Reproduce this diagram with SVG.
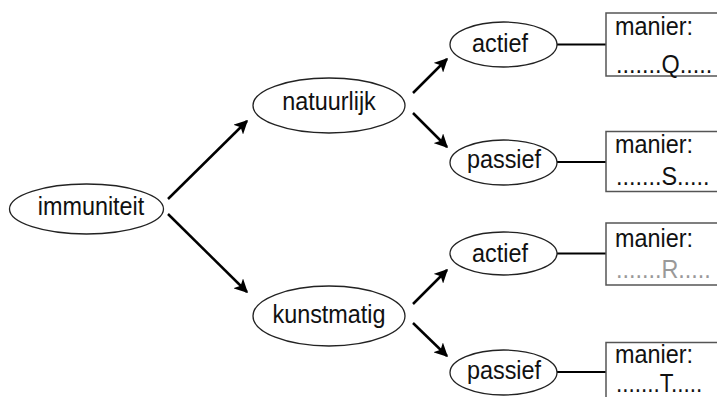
<svg xmlns="http://www.w3.org/2000/svg" width="717" height="397" viewBox="0 0 717 397">
  <defs>
    <marker id="arr" viewBox="0 0 10 10" refX="9" refY="5" markerWidth="5.5" markerHeight="5.5" markerUnits="strokeWidth" orient="auto">
      <path d="M0,0 L10,5 L0,10 L2.5,5 Z" fill="#000"/>
    </marker>
    <style>
      .node ellipse { fill: #fff; stroke: #222; stroke-width: 1.3; }
      .box rect { fill: #fff; stroke: #555; stroke-width: 1.5; }
      text { font-family: "Liberation Sans", Arial, sans-serif; font-size: 26px; fill: #111; }
      .c { text-anchor: middle; }
      .arrow { stroke: #000; stroke-width: 2.5; fill: none; marker-end: url(#arr); }
      .link { stroke: #000; stroke-width: 2; fill: none; }
      .grey { fill: #999; }
    </style>
  </defs>

  <g id="connectors">
    <line class="arrow" x1="168" y1="199" x2="247" y2="121"/>
    <line class="arrow" x1="168" y1="214" x2="247" y2="292"/>
    <line class="arrow" x1="413" y1="93" x2="447" y2="59"/>
    <line class="arrow" x1="413" y1="113" x2="447" y2="147"/>
    <line class="arrow" x1="413" y1="304" x2="447" y2="270"/>
    <line class="arrow" x1="413" y1="323" x2="447" y2="356"/>
    <line class="link" x1="557" y1="44.5" x2="606" y2="44.5"/>
    <line class="link" x1="557" y1="162" x2="606" y2="162"/>
    <line class="link" x1="557" y1="253.5" x2="606" y2="253.5"/>
    <line class="link" x1="557" y1="372" x2="606" y2="372"/>
  </g>

  <g id="immuniteit" class="node">
    <ellipse cx="86.5" cy="209" rx="77" ry="25"/>
    <text class="c" transform="translate(91,215) scale(0.9,1)">immuniteit</text>
  </g>
  <g id="natuurlijk" class="node">
    <ellipse cx="329" cy="105.5" rx="76" ry="27.5"/>
    <text class="c" transform="translate(329,110) scale(0.9,1)">natuurlijk</text>
  </g>
  <g id="kunstmatig" class="node">
    <ellipse cx="329" cy="316" rx="76" ry="30"/>
    <text class="c" transform="translate(329,322.5) scale(0.9,1)">kunstmatig</text>
  </g>
  <g id="actief1" class="node">
    <ellipse cx="503.5" cy="44.5" rx="53.5" ry="22.5"/>
    <text class="c" transform="translate(500,52) scale(0.9,1)">actief</text>
  </g>
  <g id="passief1" class="node">
    <ellipse cx="503.5" cy="162.5" rx="53.5" ry="22.5"/>
    <text class="c" transform="translate(504,168) scale(0.9,1)">passief</text>
  </g>
  <g id="actief2" class="node">
    <ellipse cx="503.5" cy="253.5" rx="53.5" ry="21.5"/>
    <text class="c" transform="translate(500,261.5) scale(0.9,1)">actief</text>
  </g>
  <g id="passief2" class="node">
    <ellipse cx="503.5" cy="372.5" rx="53.5" ry="22.5"/>
    <text class="c" transform="translate(504,379) scale(0.9,1)">passief</text>
  </g>

  <g id="boxQ" class="box">
    <rect x="606" y="13" width="130" height="63"/>
    <text transform="translate(615,35) scale(0.9,1)">manier:</text>
    <text transform="translate(616,72.5) scale(0.9,1)">.......Q.....</text>
  </g>
  <g id="boxS" class="box">
    <rect x="606" y="131.5" width="130" height="60"/>
    <text transform="translate(615,153) scale(0.9,1)">manier:</text>
    <text transform="translate(616,185) scale(0.9,1)">.......S.....</text>
  </g>
  <g id="boxR" class="box">
    <rect x="606" y="223" width="130" height="62"/>
    <text transform="translate(615,246.5) scale(0.9,1)">manier:</text>
    <text transform="translate(616,278) scale(0.9,1)" class="grey">.......R.....</text>
  </g>
  <g id="boxT" class="box">
    <rect x="606" y="342.5" width="130" height="62"/>
    <text transform="translate(615,363) scale(0.9,1)">manier:</text>
    <text transform="translate(616,392) scale(0.9,1)" style="font-size:25px">.......T.....</text>
  </g>
</svg>
